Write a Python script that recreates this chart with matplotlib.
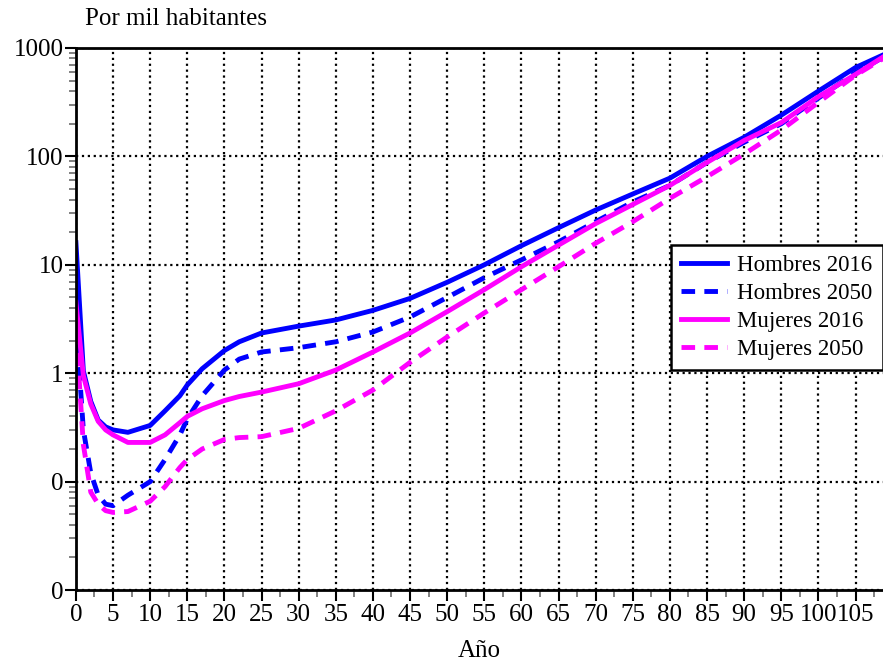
import numpy as np
import matplotlib
matplotlib.use('Agg')
import matplotlib.pyplot as plt
from matplotlib.ticker import FixedLocator, FuncFormatter, MultipleLocator

# Tasas de mortalidad por edad (por mil habitantes)
edades = [0, 1, 2, 3, 4, 5, 7, 10, 12, 14, 15, 17, 20, 22, 25, 30, 35, 40, 45,
          50, 55, 60, 65, 70, 75, 80, 85, 90, 95, 100, 105, 109]

hombres_2016 = [16, 1.05, 0.55, 0.37, 0.32, 0.30, 0.285, 0.33, 0.45, 0.62, 0.78,
                1.1, 1.62, 1.95, 2.35, 2.72, 3.1, 3.8, 4.9,
                6.9, 10, 15, 22, 32, 45, 63, 100, 150, 240, 400, 660, 880]
hombres_2050 = [3.0, 0.30, 0.12, 0.075, 0.062, 0.060, 0.075, 0.10, 0.16, 0.27, 0.38,
                0.62, 1.07, 1.35, 1.57, 1.72, 1.95, 2.4, 3.3,
                5.0, 7.6, 11.1, 16.3, 25, 38, 54, 88, 135, 200, 345, 590, 840]
mujeres_2016 = [4.5, 0.95, 0.52, 0.36, 0.30, 0.27, 0.23, 0.23, 0.27, 0.35, 0.40,
                0.47, 0.56, 0.61, 0.67, 0.80, 1.07, 1.57, 2.35,
                3.7, 5.9, 9.6, 15.2, 24, 36, 54, 88, 140, 205, 355, 570, 850]
mujeres_2050 = [2.5, 0.22, 0.08, 0.062, 0.054, 0.052, 0.053, 0.066, 0.09, 0.135, 0.16,
                0.2, 0.245, 0.255, 0.26, 0.31, 0.45, 0.7, 1.26,
                2.16, 3.6, 5.9, 9.6, 15.8, 25, 41, 65, 105, 175, 315, 560, 820]

series = [
    ('Hombres 2016', hombres_2016, '#0000ff', '-'),
    ('Hombres 2050', hombres_2050, '#0000ff', '--'),
    ('Mujeres 2016', mujeres_2016, '#ff00ff', '-'),
    ('Mujeres 2050', mujeres_2050, '#ff00ff', '--'),
]

plt.rcParams['font.family'] = ['Liberation Serif', 'DejaVu Serif']
plt.rcParams['font.size'] = 18

fig = plt.figure(figsize=(8.83, 6.66), dpi=100)
ax = fig.add_axes([0.086, 0.114, 0.914, 0.814])

for label, vals, color, ls in series:
    line, = ax.plot(edades, vals, color=color, linestyle=ls, linewidth=3.5,
                    label=label, solid_joinstyle='round')
    if ls == '--':
        line.set_dashes((2.8, 1.9))

ax.set_yscale('log')
ax.set_ylim(0.01, 1000)
ax.set_xlim(0, 108.7)

ax.yaxis.set_major_locator(FixedLocator([0.01, 0.1, 1, 10, 100, 1000]))
ax.yaxis.set_major_formatter(FuncFormatter(lambda v, p: f'{v:.0f}'))
ax.xaxis.set_major_locator(MultipleLocator(5))
ax.xaxis.set_minor_locator(MultipleLocator(2.5))

ax.tick_params(which='major', direction='out', length=8, width=1.5, color='black', pad=2)
ax.tick_params(which='minor', direction='out', length=5, width=1.3, color='#777777')
ax.tick_params(axis='y', which='major', pad=1)

ax.grid(True, which='major', color='black', linestyle=':', linewidth=1.6)

for side in ['left', 'bottom', 'top']:
    ax.spines[side].set_linewidth(2)
    ax.spines[side].set_color('black')
ax.spines['right'].set_visible(False)

ax.set_xlabel('Año', labelpad=10)
fig.text(0.096, 0.972, 'Por mil habitantes', ha='left', va='center')

leg = ax.legend(loc='upper right', bbox_to_anchor=(1.0, 0.637), borderaxespad=0,
                fancybox=False, framealpha=1, edgecolor='black', fontsize=16.5,
                handlelength=2.0, handletextpad=0.45, labelspacing=0.3, borderpad=0.45)
leg.get_frame().set_linewidth(1.8)

fig.savefig('out.png', dpi=100)
